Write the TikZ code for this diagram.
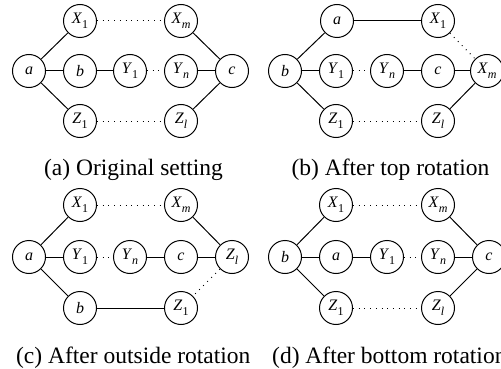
\documentclass[tikz,border=0pt]{standalone}
\usepackage{fontspec}
\setmainfont{Liberation Serif}
\newcommand{\lab}[2]{\textit{#1}\raisebox{-0.33em}{\fontsize{12}{12}\selectfont #2}}
\tikzset{
  vtx/.style={draw, circle, minimum size=33pt, inner sep=0pt, line width=1pt, font=\fontsize{16}{16}\selectfont},
  edge/.style={line width=1pt},
  dots/.style={line width=1pt, dash pattern=on 0.9pt off 4.8pt},
  captext/.style={font=\fontsize{23.5}{24}\selectfont, inner sep=0pt, anchor=base}
}
\begin{document}
\begin{tikzpicture}[x=1pt,y=-1pt]
\useasboundingbox (0,0) rectangle (501,369);
% (a)
\node[vtx] (aa) at (29,71) {\textit{a}};
\node[vtx] (aX1) at (80,21) {\lab{X}{1}};
\node[vtx] (ab) at (80,71) {\textit{b}};
\node[vtx] (aZ1) at (80,121) {\lab{Z}{1}};
\node[vtx] (aY1) at (130,71) {\lab{Y}{1}};
\node[vtx] (aXm) at (181,21) {\lab{X}{\textit{m}}};
\node[vtx] (aYn) at (181,71) {\lab{Y}{\textit{n}}};
\node[vtx] (aZl) at (181,121) {\lab{Z}{\textit{l}}};
\node[vtx] (ac) at (232,71) {\textit{c}};
\draw[edge] (aa) -- (aX1);
\draw[edge] (aa) -- (ab);
\draw[edge] (aa) -- (aZ1);
\draw[edge] (ab) -- (aY1);
\draw[dots] (aY1) -- (aYn);
\draw[edge] (aYn) -- (ac);
\draw[dots] (aX1) -- (aXm);
\draw[edge] (aXm) -- (ac);
\draw[dots] (aZ1) -- (aZl);
\draw[edge] (aZl) -- (ac);
\node[captext] (capa) at (133.5,175) {(a) Original setting};
% (b)
\node[vtx] (bb) at (285,71) {\textit{b}};
\node[vtx] (ba) at (337,21) {\textit{a}};
\node[vtx] (bX1) at (438,21) {\lab{X}{1}};
\node[vtx] (bY1) at (336,71) {\lab{Y}{1}};
\node[vtx] (bYn) at (387,71) {\lab{Y}{\textit{n}}};
\node[vtx] (bc) at (438,71) {\textit{c}};
\node[vtx] (bXm) at (487,71) {\lab{X}{\textit{m}}};
\node[vtx] (bZ1) at (336,121) {\lab{Z}{1}};
\node[vtx] (bZl) at (438,121) {\lab{Z}{\textit{l}}};
\draw[edge] (bb) -- (ba);
\draw[edge] (bb) -- (bY1);
\draw[edge] (bb) -- (bZ1);
\draw[edge] (ba) -- (bX1);
\draw[dots] (bX1) -- (bXm);
\draw[dots] (bY1) -- (bYn);
\draw[edge] (bYn) -- (bc);
\draw[edge] (bc) -- (bXm);
\draw[dots] (bZ1) -- (bZl);
\draw[edge] (bZl) -- (bXm);
\node[captext] (capb) at (390.5,175) {(b) After top rotation};
% (c)
\node[vtx] (ca) at (29,257) {\textit{a}};
\node[vtx] (cX1) at (80,205) {\lab{X}{1}};
\node[vtx] (cY1) at (80,257) {\lab{Y}{1}};
\node[vtx] (cb) at (80,308) {\textit{b}};
\node[vtx] (cYn) at (130,257) {\lab{Y}{\textit{n}}};
\node[vtx] (cXm) at (181,205) {\lab{X}{\textit{m}}};
\node[vtx] (cc) at (181,257) {\textit{c}};
\node[vtx] (cZ1) at (181,308) {\lab{Z}{1}};
\node[vtx] (cZl) at (232,257) {\lab{Z}{\textit{l}}};
\draw[edge] (ca) -- (cX1);
\draw[edge] (ca) -- (cY1);
\draw[edge] (ca) -- (cb);
\draw[dots] (cX1) -- (cXm);
\draw[edge] (cXm) -- (cZl);
\draw[dots] (cY1) -- (cYn);
\draw[edge] (cYn) -- (cc);
\draw[edge] (cc) -- (cZl);
\draw[edge] (cb) -- (cZ1);
\draw[dots] (cZl) -- (cZ1);
\node[captext] (capc) at (133.3,363) {(c) After outside rotation};
% (d)
\node[vtx] (db) at (285,257) {\textit{b}};
\node[vtx] (dX1) at (336,205) {\lab{X}{1}};
\node[vtx] (da) at (336,257) {\textit{a}};
\node[vtx] (dZ1) at (336,308) {\lab{Z}{1}};
\node[vtx] (dY1) at (387,257) {\lab{Y}{1}};
\node[vtx] (dXm) at (438,205) {\lab{X}{\textit{m}}};
\node[vtx] (dYn) at (438,257) {\lab{Y}{\textit{n}}};
\node[vtx] (dZl) at (438,308) {\lab{Z}{\textit{l}}};
\node[vtx] (dc) at (489,257) {\textit{c}};
\draw[edge] (db) -- (dX1);
\draw[edge] (db) -- (da);
\draw[edge] (db) -- (dZ1);
\draw[edge] (da) -- (dY1);
\draw[dots] (dY1) -- (dYn);
\draw[edge] (dYn) -- (dc);
\draw[dots] (dX1) -- (dXm);
\draw[edge] (dXm) -- (dc);
\draw[dots] (dZ1) -- (dZl);
\draw[edge] (dZl) -- (dc);
\node[captext, anchor=base west] (capd) at (272,363) {(d) After bottom rotation};
\end{tikzpicture}
\end{document}
